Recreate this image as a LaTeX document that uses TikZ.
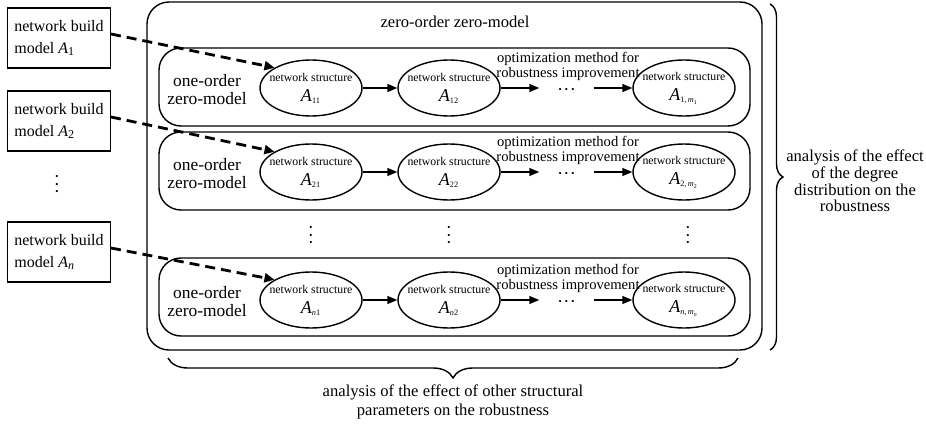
\documentclass[tikz,border=0pt]{standalone}
\usepackage{fontspec}
\setmainfont{Liberation Serif}
\usetikzlibrary{shapes.geometric,arrows.meta,decorations.pathreplacing}

\newcommand{\hdotsrow}{\textbullet\kern1.6pt\textbullet\kern1.6pt\textbullet}
\newcommand{\vdotscol}{\textbullet\\\textbullet\\\textbullet}

\begin{document}
\begin{tikzpicture}[x=0.5pt,y=-0.5pt,line width=0.7pt,
 txt/.style={font=\fontsize{8.3}{8.4}\selectfont,align=center,inner sep=0pt},
 buildbox/.style={draw,minimum width=51pt,minimum height=30pt,align=left,font=\fontsize{8}{11}\selectfont},
 netell/.style={draw,ellipse,minimum width=51pt,minimum height=28pt,inner sep=0pt},
 nettxt/.style={font=\fontsize{5.9}{10}\selectfont,align=center,inner sep=0pt},
 ordtxt/.style={font=\fontsize{8.7}{9}\selectfont,align=center,inner sep=0pt},
 opttxt/.style={font=\fontsize{7.3}{7.5}\selectfont,align=center,inner sep=0pt},
 dotsnode/.style={minimum width=26.5pt,inner sep=0pt,font=\fontsize{4.5}{4.5}\selectfont},
 vdotsnode/.style={align=center,inner sep=0pt,font=\fontsize{4.5}{3.9}\selectfont},
 rowbox/.style={rounded corners=11pt},
 arr/.style={-{Triangle[length=5pt,width=4pt]}},
 dasharrow/.style={-{Triangle[length=5pt,width=4.5pt]},line width=1.4pt,dash pattern=on 5pt off 3pt},
 brace/.style={decorate,decoration={brace,amplitude=#1}}]
\useasboundingbox (0,0) rectangle (926,428);
% outer zero-order box
\draw[rowbox] (147,2) rectangle (762,350);
\node[txt] (zero) at (455,22) {zero-order zero-model};
% network build models
\node[buildbox] (b1) at (59,38) {network build\\model \textit{A}\textsubscript{1}};
\node[buildbox] (b2) at (59,121) {network build\\model \textit{A}\textsubscript{2}};
\node[buildbox] (bn) at (59,252) {network build\\model \textit{A}\textsubscript{\textit{n}}};
\node[vdotsnode] (bdots) at (57,185) {\vdotscol};
% one-order rows
\foreach \r/\yc/\s/\ytop in {1/88/1/48, 2/172/2/132, n/300/\textit{n}/258} {
  \draw[rowbox] (159,\ytop) rectangle (750,\ytop+78);
  \node[ordtxt] (o\r) at (207,\yc+2) {one-order\\zero-model};
  \node[netell,label={[nettxt]center:{network structure\\{\fontsize{9}{9}\selectfont\textit{A}}\textsubscript{\s1}}}] (e\r1) at (311,\yc) {};
  \node[netell,label={[nettxt]center:{network structure\\{\fontsize{9}{9}\selectfont\textit{A}}\textsubscript{\s2}}}] (e\r2) at (449,\yc) {};
  \node[netell,label={[nettxt]center:{network structure\\{\fontsize{9}{9}\selectfont\textit{A}}\textsubscript{\s,\,\textit{m}\textsubscript{\s}}}}] (e\r3) at (684,\yc) {};
  \node[dotsnode] (d\r) at (566.5,\yc+2) {\hdotsrow};
  \node[opttxt] (l\r) at (568,\yc-22) {optimization method for\\robustness improvement};
  \draw[arr] (e\r1) -- (e\r2);
  \draw[arr] (e\r2.east) -- (d\r.west |- e\r2.east);
  \draw[arr] (d\r.east |- e\r3.west) -- (e\r3.west);
}
\node[vdotsnode] (vd1) at (311,236) {\vdotscol};
\node[vdotsnode] (vd2) at (449,236) {\vdotscol};
\node[vdotsnode] (vd3) at (688,236) {\vdotscol};
% model to structure
\draw[dasharrow] ([yshift=2pt]b1.east) -- (e11.north west);
\draw[dasharrow] ([yshift=2pt]b2.east) -- (e21.north west);
\draw[dasharrow] ([yshift=2pt]bn.east) -- (en1.north west);
% braces
\draw[brace=6.5pt] (770,4) -- (770,350);
\node[txt] (degree) at (855,181) {analysis of the effect\\of the degree\\distribution on the\\robustness};
\draw[brace=10pt] (738,358) -- (168,358);
\node[txt,font=\fontsize{8.3}{9.5}\selectfont] (other) at (453,402) {analysis of the effect of other structural\\parameters on the robustness};
\end{tikzpicture}
\end{document}
